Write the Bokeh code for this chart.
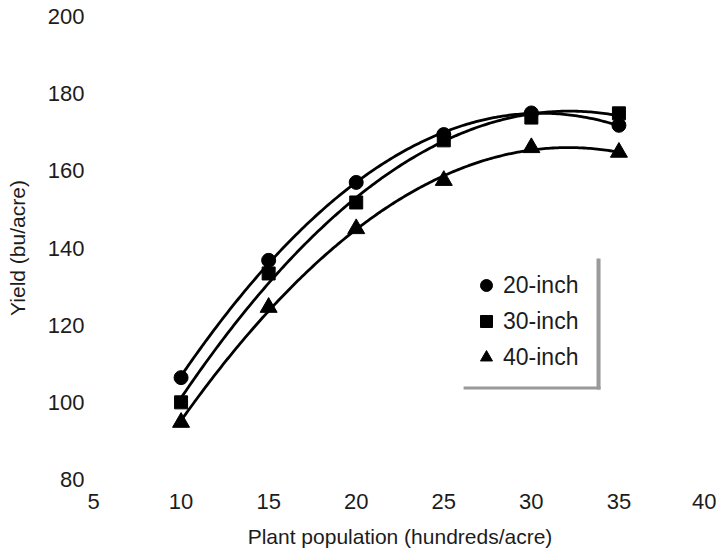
import numpy as np
from bokeh.plotting import figure
from bokeh.models import FixedTicker, Legend, LegendItem, BoxAnnotation, Range1d
from bokeh.embed import file_html
from bokeh.resources import INLINE

population = [10, 15, 20, 25, 30, 35]
yield_20in = [106.4, 136.8, 157.0, 169.4, 175.0, 171.8]
yield_30in = [100.0, 133.4, 151.8, 167.9, 173.8, 174.9]
yield_40in = [94.8, 124.6, 145.0, 157.5, 166.0, 164.8]
series_names = ["20-inch", "30-inch", "40-inch"]
x_ticks = [5, 10, 15, 20, 25, 30, 35, 40]
y_ticks = [80, 100, 120, 140, 160, 180, 200]

FONT = "Liberation Sans"
INK = "#1c1c1c"

p = figure(width=716, height=550, frame_width=613, frame_height=463,
           output_backend="svg", toolbar_location=None,
           x_range=Range1d(5, 40), y_range=Range1d(80, 200),
           min_border_left=93, min_border_right=10, min_border_top=16, min_border_bottom=71)
p.outline_line_color = None
p.grid.visible = False
p.background_fill_color = "white"
p.border_fill_color = "white"

for ax in (p.xaxis[0], p.yaxis[0]):
    ax.axis_line_color = None
    ax.major_tick_line_color = None
    ax.minor_tick_line_color = None
    ax.major_label_text_font = FONT
    ax.major_label_text_font_size = "22px"
    ax.major_label_text_color = INK
    ax.axis_label_text_font = FONT
    ax.axis_label_text_font_size = "21px"
    ax.axis_label_text_font_style = "normal"
    ax.axis_label_text_color = INK

p.xaxis.ticker = FixedTicker(ticks=x_ticks)
p.yaxis.ticker = FixedTicker(ticks=y_ticks)
p.xaxis.major_label_standoff = 8
p.yaxis.major_label_standoff = 3
p.xaxis.axis_label = "Plant population (hundreds/acre)"
p.yaxis.axis_label = "Yield (bu/acre)"
p.xaxis.axis_label_standoff = 13
p.yaxis.axis_label_standoff = 16

xs = np.linspace(min(population), max(population), 200)
series = [yield_20in, yield_30in, yield_40in]
markers = ["circle", "square", "triangle"]
sizes = [14, 13, 17]
items = []
for name, ys, mk, sz in zip(series_names, series, markers, sizes):
    coef = np.polyfit(population, ys, 2)
    p.line(xs, np.polyval(coef, xs), line_color="black", line_width=2.8)
    r = p.scatter(population, ys, marker=mk, size=sz, fill_color="black", line_color="black")
    items.append(LegendItem(label=name, renderers=[r]))

legend = Legend(items=items, location=(378, 107), orientation="vertical",
                label_text_font=FONT, label_text_font_size="23px", label_text_color=INK,
                glyph_width=30, glyph_height=30, label_height=30, spacing=6,
                label_standoff=2, padding=10, margin=0,
                border_line_color=None, background_fill_color="white", background_fill_alpha=0.0)
p.add_layout(legend, "center")

# legend drop shadow
p.add_layout(BoxAnnotation(left=33.72, right=33.95, bottom=103.3, top=137.3,
                           fill_color="#9a9a9a", fill_alpha=1.0, line_color=None))
p.add_layout(BoxAnnotation(left=26.13, right=33.95, bottom=103.3, top=104.1,
                           fill_color="#9a9a9a", fill_alpha=1.0, line_color=None))

open("out.html", "w").write(file_html(p, INLINE))
